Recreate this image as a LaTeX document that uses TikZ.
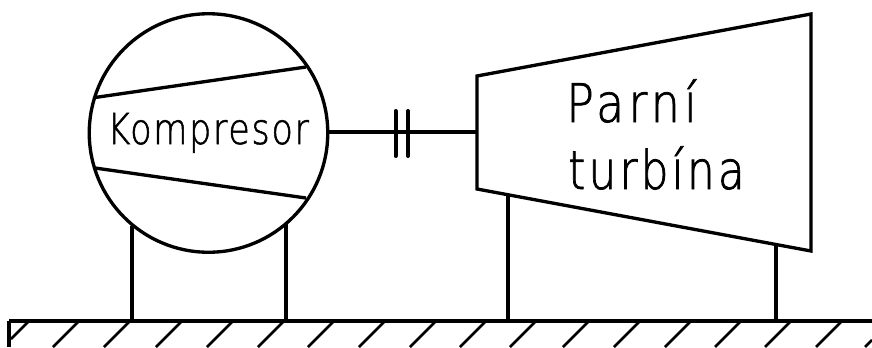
\documentclass[tikz,border=0pt]{standalone}
\usepackage{fontspec}
\newfontfamily\cadA[LetterSpace=4,FakeStretch=0.82,FakeBold=1.2]{DejaVu Sans ExtraLight}
\newfontfamily\cadB[LetterSpace=8,FakeStretch=0.86,FakeBold=1.3]{DejaVu Sans ExtraLight}
\newfontfamily\cadC[LetterSpace=6,FakeStretch=0.82,FakeBold=1.3]{DejaVu Sans ExtraLight}
\begin{document}
\begin{tikzpicture}[x=0.75pt,y=-0.75pt,
  heavy/.style={draw=black,line width=3pt},
  medium/.style={draw=black,line width=2.5pt},
  hatch/.style={draw=black,line width=1.9pt},
  lbl/.style={inner sep=0pt,anchor=base west,text=black}]
\useasboundingbox (0,0) rectangle (872,347);
\fill[white] (0,0) rectangle (872,347);
% base
\coordinate (bl) at (9,347);
\coordinate (tl) at (9,320.5);
\coordinate (tr) at (872,320.5);
\draw[heavy] (tl) -- (tr);
\draw[medium] (bl) -- (tl);
\draw[hatch] (28,322) -- (11,339);
\foreach \x in {78,129,181,232,283,333,384,435,485,535,588,639,690,740,790,841}
  \draw[hatch] (\x,322) -- ++(-25,25);
\draw[hatch] (872,340) -- ++(-7,7);
% compressor
\node[circle,draw=black,line width=2.5pt,minimum size=238.5pt*0.75,inner sep=0pt] (comp) at (208.5,133) {};
\coordinate (c1) at (95,97.5);  \coordinate (c2) at (306,67);
\coordinate (c3) at (95,168);   \coordinate (c4) at (306,198);
\draw[medium] (c1) -- (c2);
\draw[medium] (c3) -- (c4);
% turbine
\coordinate (t1) at (477,76);  \coordinate (t2) at (811,14);
\coordinate (t3) at (811,251); \coordinate (t4) at (477,189);
\draw[medium,line join=miter] (t1) -- (t2) -- (t3) -- (t4) -- cycle;
% shaft and coupling
\coordinate (s) at (477,132);
\draw[medium] (comp.east |- s) -- (s);
\draw[heavy,line cap=round] (395.5,111) -- (395.5,156);
\draw[heavy,line cap=round] (408,111) -- (408,156);
% legs
\draw[heavy] (131.5,226) -- (131.5,320.5);
\draw[heavy] (286,224) -- (286,320.5);
\draw[heavy] (508,195) -- (508,320.5);
\draw[heavy] (776,244) -- (776,320.5);
% text
\node[lbl] (k) at (107,144) {\cadA\fontsize{32pt}{32pt}\selectfont Kompresor};
\node[lbl] (p) at (566,122) {\cadB\fontsize{40pt}{40pt}\selectfont Parní};
\node[lbl] (r) at (568,189) {\cadC\fontsize{40pt}{40pt}\selectfont turbína};
\end{tikzpicture}
\end{document}
